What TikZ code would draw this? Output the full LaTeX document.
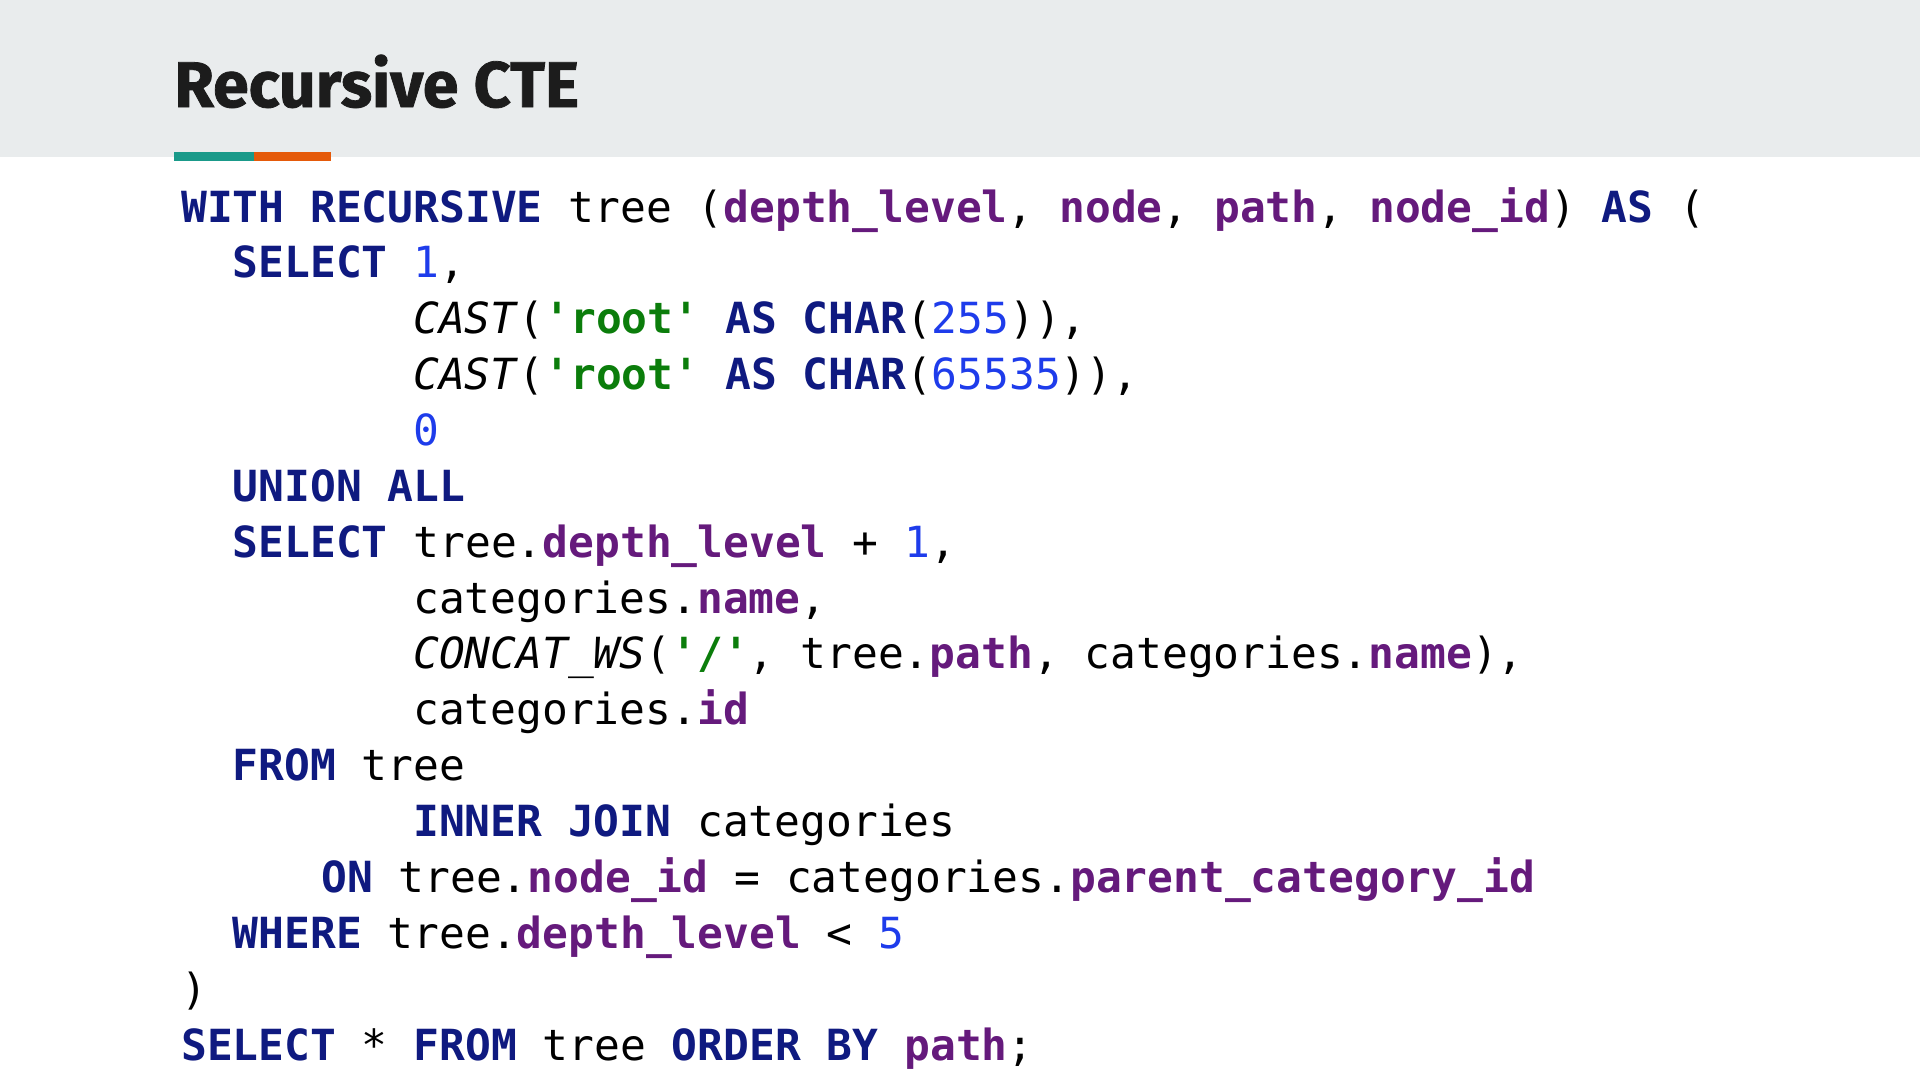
\documentclass[tikz,border=0pt]{standalone}
\usepackage{fontspec}
\newfontfamily\codefont{DejaVu Sans Mono}
\newfontfamily\titlefont{Fira Sans}[BoldFeatures={FakeBold=1.2}]
\definecolor{hdrgray}{HTML}{E9ECED}
\definecolor{accteal}{HTML}{1A9A8A}
\definecolor{accorange}{HTML}{E55A0A}
\definecolor{kwcol}{HTML}{0F1A80}
\definecolor{idcol}{HTML}{651A7C}
\definecolor{strcol}{HTML}{0B7D0B}
\definecolor{numcol}{HTML}{1E3CEB}
\definecolor{titlecol}{HTML}{1C1C1C}
\newcommand\kw[1]{\textcolor{kwcol}{\bfseries #1}}
\newcommand\idn[1]{\textcolor{idcol}{\bfseries #1}}
\newcommand\str[1]{\textcolor{strcol}{\bfseries #1}}
\newcommand\num[1]{\textcolor{numcol}{#1}}
\newcommand\fn[1]{\textit{#1}}
\newcommand\us{\symbol{95}}
\begin{document}
\begin{tikzpicture}[x=1pt,y=-1pt,
  codeline/.style={anchor=base west,inner sep=0pt,font=\codefont\fontsize{42.9}{50}\selectfont,text=black},
  titletext/.style={anchor=base west,inner sep=0pt,font=\titlefont\bfseries\fontsize{64.5}{70}\selectfont,text=titlecol}]
\useasboundingbox (0,0) rectangle (1920,1080);
\fill[white] (0,0) rectangle (1920,1080);
\fill[hdrgray] (0,0) rectangle (1920,157);
\fill[accteal] (174,152) rectangle (254,161);
\fill[accorange] (254,152) rectangle (331,161);
\node[titletext] (title) at (174,107) {Recursive CTE};
\def\ls{55.87}
\node[codeline] (l0) at (181,222) {\kw{WITH RECURSIVE} tree (\idn{depth\us level}, \idn{node}, \idn{path}, \idn{node\us id}) \kw{AS} (};
\node[codeline] (l1) at (232.6,222+1*\ls) {\kw{SELECT} \num{1},};
\node[codeline] (l2) at (413,222+2*\ls) {\fn{CAST}(\str{'root'} \kw{AS} \kw{CHAR}(\num{255})),};
\node[codeline] (l3) at (413,222+3*\ls) {\fn{CAST}(\str{'root'} \kw{AS} \kw{CHAR}(\num{65535})),};
\node[codeline] (l4) at (413,222+4*\ls) {\num{0}};
\node[codeline] (l5) at (232.6,222+5*\ls) {\kw{UNION ALL}};
\node[codeline] (l6) at (232.6,222+6*\ls) {\kw{SELECT} tree.\idn{depth\us level} + \num{1},};
\node[codeline] (l7) at (413,222+7*\ls) {categories.\idn{name},};
\node[codeline] (l8) at (413,222+8*\ls) {\fn{CONCAT\us WS}(\str{'/'}, tree.\idn{path}, categories.\idn{name}),};
\node[codeline] (l9) at (413,222+9*\ls) {categories.\idn{id}};
\node[codeline] (l10) at (232.6,222+10*\ls) {\kw{FROM} tree};
\node[codeline] (l11) at (413,222+11*\ls) {\kw{INNER JOIN} categories};
\node[codeline] (l12) at (321,222+12*\ls) {\kw{ON} tree.\idn{node\us id} = categories.\idn{parent\us category\us id}};
\node[codeline] (l13) at (232.6,222+13*\ls) {\kw{WHERE} tree.\idn{depth\us level} < \num{5}};
\node[codeline] (l14) at (181,222+14*\ls) {)};
\node[codeline] (l15) at (181,222+15*\ls) {\kw{SELECT} * \kw{FROM} tree \kw{ORDER BY} \idn{path};};
\end{tikzpicture}
\end{document}
